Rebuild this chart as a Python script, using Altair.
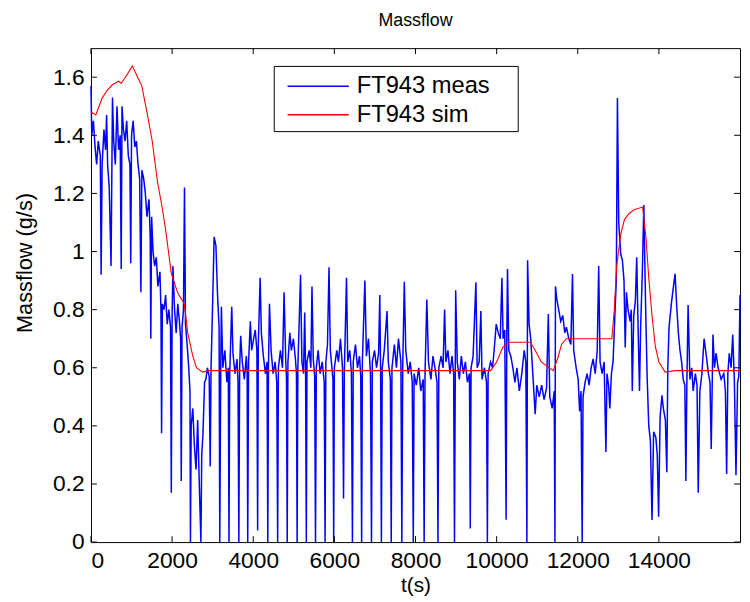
import altair as alt
import pandas as pd

# ---- data ----
meas_points = [
    (0, 1.57), (20, 1.40), (60, 1.45), (100, 1.36), (140, 1.30), (180, 1.38), (230, 1.33),
    (250, 0.92), (275, 1.30), (320, 1.42), (360, 1.35), (385, 1.47), (410, 1.30), (450, 1.22),
    (495, 0.95), (530, 1.53), (560, 1.38), (600, 1.30), (641, 1.50), (680, 1.35), (720, 1.40),
    (745, 0.94), (765, 1.50), (800, 1.42), (840, 1.38), (880, 1.45), (920, 1.33), (960, 1.30),
    (980, 0.96), (1000, 1.40), (1040, 1.45), (1080, 1.36), (1120, 1.38), (1160, 1.30), (1200, 1.25),
    (1230, 0.86), (1255, 1.28), (1300, 1.25), (1340, 1.20), (1380, 1.12), (1430, 1.18), (1460, 1.05),
    (1475, 0.70), (1495, 1.12), (1530, 1.00), (1570, 0.95), (1610, 0.98), (1650, 0.88), (1700, 0.93),
    (1725, 0.80), (1740, 0.375), (1760, 0.82), (1800, 0.80), (1840, 0.85), (1880, 0.75), (1920, 0.80),
    (1960, 0.74), (1980, 0.17), (2000, 0.78), (2020, 0.95), (2060, 0.80), (2100, 0.72), (2140, 0.82),
    (2180, 0.76), (2210, 0.70), (2225, 0.21), (2245, 0.74), (2280, 0.80), (2305, 1.22), (2330, 0.75),
    (2370, 0.68), (2410, 0.60), (2440, 0.52), (2452, 0.0), (2470, 0.40), (2510, 0.46), (2550, 0.33),
    (2590, 0.25), (2630, 0.42), (2670, 0.20), (2710, 0.0), (2730, 0.30), (2760, 0.37), (2800, 0.55),
    (2832, 0.56), (2870, 0.60), (2914, 0.57), (2939, 0.26), (2960, 0.60), (2995, 0.80), (3036, 1.05),
    (3080, 1.02), (3120, 0.85), (3158, 0.74), (3175, 0.0), (3200, 0.62), (3215, 0.81), (3250, 0.60),
    (3300, 0.66), (3350, 0.55), (3385, 0.60), (3402, 0.0), (3420, 0.58), (3470, 0.81), (3500, 0.65),
    (3550, 0.58), (3600, 0.63), (3625, 0.55), (3645, 0.0), (3665, 0.60), (3690, 0.71), (3730, 0.62),
    (3780, 0.56), (3830, 0.64), (3850, 0.58), (3864, 0.0), (3885, 0.62), (3928, 0.76), (3960, 0.66),
    (4010, 0.70), (4050, 0.73), (4090, 0.66), (4108, 0.04), (4125, 0.68), (4170, 0.91), (4200, 0.72),
    (4250, 0.64), (4300, 0.58), (4340, 0.62), (4359, 0.0), (4375, 0.60), (4400, 0.82), (4440, 0.66),
    (4490, 0.58), (4540, 0.62), (4580, 0.55), (4602, 0.0), (4620, 0.60), (4670, 0.66), (4720, 0.60),
    (4760, 0.86), (4800, 0.63), (4820, 0.56), (4838, 0.0), (4855, 0.62), (4902, 0.72), (4940, 0.66),
    (4990, 0.70), (5040, 0.63), (5065, 0.58), (5082, 0.0), (5100, 0.60), (5166, 0.92), (5200, 0.62),
    (5240, 0.58), (5268, 0.79), (5290, 0.60), (5308, 0.0), (5325, 0.62), (5380, 0.66), (5420, 0.60),
    (5448, 0.88), (5480, 0.63), (5515, 0.57), (5535, 0.0), (5555, 0.60), (5600, 0.66), (5650, 0.58),
    (5700, 0.62), (5750, 0.55), (5771, 0.0), (5790, 0.62), (5830, 0.68), (5868, 0.946), (5900, 0.66),
    (5940, 0.60), (5965, 0.56), (5983, 0.0), (6000, 0.60), (6060, 0.66), (6100, 0.62), (6150, 0.70),
    (6200, 0.60), (6226, 0.15), (6245, 0.58), (6299, 0.91), (6330, 0.62), (6380, 0.66), (6420, 0.58),
    (6445, 0.0), (6465, 0.62), (6520, 0.68), (6570, 0.60), (6620, 0.64), (6650, 0.57), (6672, 0.0),
    (6690, 0.62), (6752, 0.90), (6790, 0.64), (6840, 0.70), (6890, 0.58), (6915, 0.0), (6935, 0.62),
    (6990, 0.66), (7040, 0.60), (7090, 0.65), (7120, 0.85), (7140, 0.58), (7159, 0.0), (7180, 0.60),
    (7230, 0.66), (7298, 0.795), (7330, 0.62), (7380, 0.56), (7402, 0.0), (7420, 0.60), (7480, 0.68),
    (7530, 0.60), (7580, 0.70), (7640, 0.62), (7663, 0.0), (7685, 0.60), (7724, 0.896), (7760, 0.66),
    (7820, 0.58), (7870, 0.62), (7920, 0.55), (7945, 0.0), (7965, 0.58), (8020, 0.54), (8080, 0.60),
    (8130, 0.52), (8190, 0.56), (8213, 0.0), (8235, 0.58), (8279, 0.835), (8320, 0.62), (8380, 0.56),
    (8430, 0.64), (8480, 0.60), (8530, 0.55), (8554, 0.0), (8575, 0.60), (8630, 0.64), (8680, 0.60),
    (8717, 0.80), (8750, 0.62), (8800, 0.66), (8850, 0.58), (8900, 0.64), (8940, 0.58), (8961, 0.0),
    (8990, 0.867), (9030, 0.62), (9080, 0.56), (9130, 0.64), (9180, 0.58), (9230, 0.62), (9280, 0.55),
    (9330, 0.58), (9350, 0.047), (9370, 0.60), (9420, 0.64), (9489, 0.894), (9520, 0.60), (9570, 0.62),
    (9611, 0.795), (9640, 0.56), (9700, 0.60), (9750, 0.55), (9772, 0.0), (9790, 0.58), (9850, 0.62),
    (9900, 0.60), (9950, 0.68), (9990, 0.75), (10040, 0.72), (10090, 0.70), (10130, 0.91), (10160, 0.70),
    (10200, 0.73), (10234, 0.077), (10250, 0.70), (10268, 0.94), (10300, 0.66), (10350, 0.64),
    (10400, 0.60), (10450, 0.55), (10500, 0.60), (10560, 0.52), (10620, 0.58), (10680, 0.66),
    (10720, 0.62), (10746, 0.0), (10763, 0.97), (10800, 0.75), (10840, 0.70), (10900, 0.56),
    (10950, 0.44), (10990, 0.54), (11050, 0.50), (11110, 0.54), (11170, 0.49), (11230, 0.53),
    (11274, 0.785), (11310, 0.50), (11370, 0.46), (11420, 0.52), (11437, 0.0), (11450, 0.88),
    (11480, 0.84), (11530, 0.80), (11580, 0.76), (11630, 0.78), (11680, 0.72), (11720, 0.74),
    (11780, 0.70), (11830, 0.68), (11870, 0.923), (11900, 0.66), (11960, 0.60), (12010, 0.56),
    (12045, 0.45), (12080, 0.52), (12109, 0.0), (12130, 0.50), (12180, 0.55), (12230, 0.58),
    (12280, 0.54), (12330, 0.60), (12380, 0.63), (12430, 0.58), (12480, 0.66), (12516, 0.95),
    (12550, 0.62), (12600, 0.58), (12650, 0.62), (12694, 0.31), (12720, 0.58), (12760, 0.54),
    (12790, 0.46), (12830, 0.58), (12870, 0.62), (12920, 0.80), (12950, 0.90), (12978, 1.528),
    (13010, 1.10), (13060, 0.99), (13100, 0.97), (13140, 0.90), (13170, 0.67), (13200, 0.86),
    (13240, 0.80), (13290, 0.76), (13320, 0.80), (13344, 0.52), (13380, 0.78), (13420, 0.83),
    (13453, 0.98), (13490, 0.72), (13522, 0.52), (13550, 0.74), (13590, 0.92), (13629, 1.16),
    (13670, 0.83), (13710, 0.57), (13750, 0.40), (13790, 0.35), (13830, 0.076), (13870, 0.38),
    (13925, 0.36), (13960, 0.30), (13993, 0.087), (14030, 0.43), (14075, 0.505), (14110, 0.46),
    (14160, 0.42), (14195, 0.24), (14220, 0.60), (14250, 0.74), (14315, 0.83), (14398, 0.923),
    (14440, 0.81), (14480, 0.72), (14520, 0.66), (14560, 0.62), (14600, 0.56), (14640, 0.54),
    (14665, 0.21), (14690, 0.55), (14720, 0.816), (14765, 0.56), (14810, 0.60), (14845, 0.52),
    (14900, 0.58), (14940, 0.54), (14970, 0.17), (15010, 0.52), (15060, 0.58), (15114, 0.70),
    (15170, 0.64), (15220, 0.58), (15260, 0.55), (15290, 0.32), (15333, 0.714), (15370, 0.60),
    (15410, 0.65), (15460, 0.60), (15535, 0.56), (15600, 0.58), (15640, 0.52), (15670, 0.234),
    (15700, 0.58), (15735, 0.65), (15780, 0.60), (15820, 0.714), (15860, 0.56), (15900, 0.23),
    (15940, 0.55), (15970, 0.57), (16000, 0.85),
]

sim_points = [
    (0, 1.48), (120, 1.47), (275, 1.528), (400, 1.555), (520, 1.573), (680, 1.586), (745, 1.579),
    (850, 1.60), (1020, 1.639), (1150, 1.60), (1250, 1.571), (1380, 1.48), (1510, 1.38),
    (1640, 1.24), (1750, 1.155), (1835, 1.08), (1980, 0.925), (2140, 0.857), (2300, 0.82),
    (2385, 0.72), (2510, 0.64), (2600, 0.60), (2750, 0.585), (2900, 0.59), (9855, 0.59),
    (10000, 0.62), (10150, 0.67), (10300, 0.688), (10830, 0.688), (10950, 0.66), (11100, 0.62),
    (11395, 0.59), (11500, 0.63), (11600, 0.68), (11720, 0.70), (12840, 0.70), (12900, 0.80),
    (12960, 0.95), (13060, 1.06), (13150, 1.11), (13260, 1.13), (13400, 1.145), (13600, 1.153),
    (13680, 1.05), (13750, 0.91), (13830, 0.78), (13910, 0.675), (14000, 0.62), (14155, 0.585),
    (14400, 0.59), (16000, 0.59),
]

series_names = ["FT943 meas", "FT943 sim"]
series_colors = ["#0000ff", "#ff0000"]
x_ticks = [0, 2000, 4000, 6000, 8000, 10000, 12000, 14000]
y_ticks = [0, 0.2, 0.4, 0.6, 0.8, 1.0, 1.2, 1.4, 1.6]
x_domain = [0, 16000]
y_domain = [0, 1.7]

df_meas = pd.DataFrame(meas_points, columns=["t", "v"])
df_meas["series"] = series_names[0]
df_sim = pd.DataFrame(sim_points, columns=["t", "v"])
df_sim["series"] = series_names[1]
df_xt = pd.DataFrame({"t": x_ticks})
df_yt = pd.DataFrame({"v": y_ticks})

W, H = 657, 500
FONT = "Liberation Sans"

xscale = alt.Scale(domain=x_domain, nice=False, zero=False)
yscale = alt.Scale(domain=y_domain, nice=False, zero=False)
x_axis = alt.Axis(values=x_ticks, format="d", title="t(s)",
                  labelPadding=8, titlePadding=2, labelFont=FONT, labelFontSize=23,
                  titleFont=FONT, titleFontSize=21, titleFontWeight="normal",
                  labelColor="black", titleColor="black")
y_axis = alt.Axis(values=y_ticks, format="~g", title="Massflow (g/s)",
                  labelPadding=7, titleX=-55, titleY=217, labelFont=FONT, labelFontSize=23,
                  titleFont=FONT, titleFontSize=22, titleFontWeight="normal",
                  labelColor="black", titleColor="black")

# legend line symbol: a 62px stroke, plus an invisible zero-length point that widens the box
color = alt.Color(
    "series:N",
    scale=alt.Scale(domain=series_names, range=series_colors),
    legend=alt.Legend(
        title=None, orient="none", legendX=185, legendY=18,
        symbolType="M-0.42,0H3.58M14.1,0L14.1,0", symbolSize=961, symbolStrokeWidth=1.5,
        labelFontSize=24, labelFont=FONT, labelColor="black", labelOffset=47,
        rowPadding=-1, padding=4, strokeColor="black", fillColor="white",
        cornerRadius=0,
    ),
)

meas = alt.Chart(df_meas).mark_line(strokeWidth=1.5).encode(
    x=alt.X("t:Q", scale=xscale, axis=x_axis),
    y=alt.Y("v:Q", scale=yscale, axis=y_axis),
    color=color,
)

sim = alt.Chart(df_sim).mark_line(strokeWidth=1.1).encode(
    x=alt.X("t:Q", scale=xscale, axis=x_axis),
    y=alt.Y("v:Q", scale=yscale, axis=y_axis),
    color=color,
)

tick_len = 6
bottom_ticks = alt.Chart(df_xt).mark_rule(color="black", strokeWidth=1).encode(
    x=alt.X("t:Q", scale=xscale, axis=x_axis), y=alt.value(H - tick_len), y2=alt.value(H))
top_ticks = alt.Chart(df_xt).mark_rule(color="black", strokeWidth=1).encode(
    x=alt.X("t:Q", scale=xscale, axis=x_axis), y=alt.value(0), y2=alt.value(tick_len))
left_ticks = alt.Chart(df_yt).mark_rule(color="black", strokeWidth=1).encode(
    y=alt.Y("v:Q", scale=yscale, axis=y_axis), x=alt.value(0), x2=alt.value(tick_len))
right_ticks = alt.Chart(df_yt).mark_rule(color="black", strokeWidth=1).encode(
    y=alt.Y("v:Q", scale=yscale, axis=y_axis), x=alt.value(W - tick_len), x2=alt.value(W))

chart = alt.layer(meas, sim, bottom_ticks, top_ticks, left_ticks, right_ticks).properties(
    width=W, height=H,
    title=alt.TitleParams("Massflow", fontSize=18, font=FONT, fontWeight="normal",
                          anchor="middle", frame="group", offset=18, color="black"),
    autosize=alt.AutoSizeParams(type="none"),
    padding={"left": 84, "top": 37, "right": 2, "bottom": 56},
).configure_view(
    stroke="black", strokeWidth=1
).configure_axis(
    grid=False, domain=False, ticks=False,
)

chart.save("out.html", embed_options={"renderer": "svg", "actions": False})
